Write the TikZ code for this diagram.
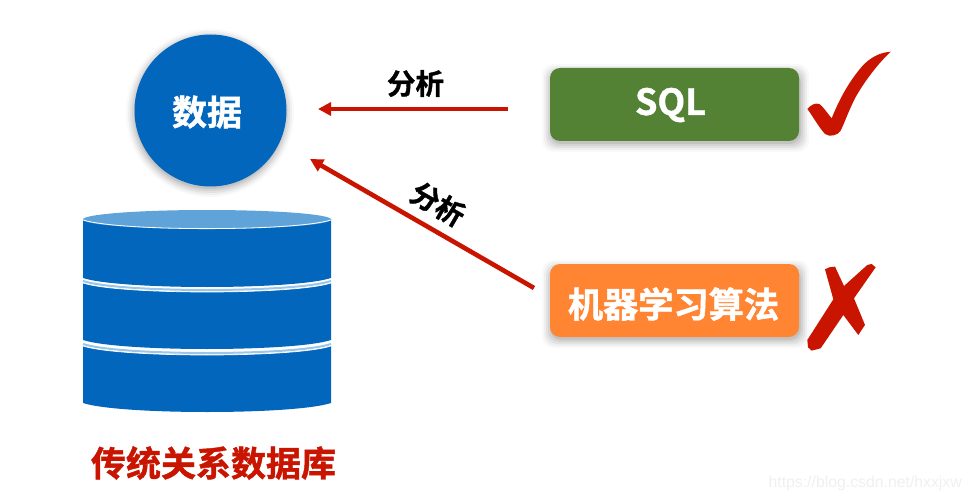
\documentclass[tikz,border=0pt]{standalone}
\usepackage{fontspec}
\usetikzlibrary{arrows.meta}
\newfontfamily\cjkb{Noto Sans CJK SC}[BoldFont=* Bold,BoldFeatures={FakeBold=1.2}]
\definecolor{dbblue}{HTML}{0266BD}
\definecolor{dbtop}{HTML}{5FA3D9}
\definecolor{dbline}{HTML}{9CC6E8}
\definecolor{mygreen}{HTML}{548235}
\definecolor{myorange}{HTML}{FF8533}
\definecolor{myred}{HTML}{C91400}
\definecolor{wm}{HTML}{F0F0F0}
\tikzset{
  x=1pt,y=-1pt,
  flow/.style={line width=4.6pt,draw=myred,-{Triangle[length=13pt,width=13pt]}},
  labeltext/.style={font=\cjkb\bfseries\fontsize{28.5}{28.5}\selectfont,text=black,inner sep=0pt},
  boxtext/.style={font=\cjkb\bfseries\fontsize{35}{35}\selectfont,text=white,inner sep=0pt},
  box/.style={rounded corners=10pt,minimum width=249pt,minimum height=73pt,inner sep=0pt,anchor=center},
  seg/.style={fill=dbblue,draw=none},
}
\begin{document}
\begin{tikzpicture}
\useasboundingbox (0,0) rectangle (972,500);
\fill[white] (0,0) rectangle (972,500);
% soft shadows
\foreach \o/\g in {9/0.025,7/0.04,5/0.05,3/0.06,1/0.08}{
  \fill[black,opacity=\g] (210,113) circle[radius=75+\o];
  \fill[black,opacity=\g,rounded corners=11pt] (551-\o,73-\o) rectangle (800+\o,143+\o);
  \fill[black,opacity=\g,rounded corners=11pt] (551-\o,269-\o) rectangle (800+\o,339+\o);
}
% cylinder
\fill[seg] (83,346) .. controls (120,358) and (294,358) .. (331,346) -- (331,403) .. controls (294,415) and (120,415) .. (83,403) -- cycle;
\fill[seg] (83,283) .. controls (120,295) and (294,295) .. (331,283) -- (331,340) .. controls (294,352) and (120,352) .. (83,340) -- cycle;
\fill[seg] (83,219) -- (331,219) -- (331,278) .. controls (294,290) and (120,290) .. (83,278) -- cycle;
\fill[dbtop,draw=none] (207,219.5) ellipse[x radius=124,y radius=9.5];
\draw[white,line width=0.8pt] (83,220) .. controls (120,231.5) and (294,231.5) .. (331,220);
\draw[dbline,line width=2pt] (83,281) .. controls (120,293) and (294,293) .. (331,281);
\draw[white,line width=0.7pt] (83,279) .. controls (120,291) and (294,291) .. (331,279);
\draw[white,line width=0.7pt] (83,283) .. controls (120,295) and (294,295) .. (331,283);
\draw[dbline,line width=2pt] (83,344) .. controls (120,356) and (294,356) .. (331,344);
\draw[white,line width=0.7pt] (83,342) .. controls (120,354) and (294,354) .. (331,342);
\draw[white,line width=0.7pt] (83,346) .. controls (120,358) and (294,358) .. (331,346);
% main nodes
\node[circle,fill=dbblue,minimum size=152pt,inner sep=0pt] (data) at (210.5,110.5) {};
\node[boxtext] (datat) at (207,112) {数据};
\node[box,fill=mygreen] (sql) at (674.5,104.5) {};
\node[boxtext] (sqlt) at (670.5,105) {\fontsize{36}{36}\selectfont SQL};
\node[box,fill=myorange] (ml) at (674.5,300.5) {};
\node[boxtext] (mlt) at (673.5,304) {\fontsize{35.2}{35.2}\selectfont 机器学习算法};
\node[font=\cjkb\bfseries\fontsize{35}{35}\selectfont,text=myred,inner sep=0pt] (title) at (213.5,463) {传统关系数据库};
% connectors
\coordinate (a1s) at (508,109);
\coordinate (a1e) at (318,109);
\coordinate (a2s) at (534,288);
\coordinate (a2e) at (310,159);
\draw[flow] (a1s) -- (a1e);
\draw[flow] (a2s) -- (a2e);
\node[labeltext] (l1) at (415.5,83.5) {分析};
\node[labeltext,rotate=-30] (l2) at (438,204) {分析};
% check mark
\begin{scope}[shift={(780,40)},x=0.3333pt,y=-0.3333pt]
\fill[myred,line join=round] (82,207) .. controls (92,195) and (105,188) .. (118,192)
  .. controls (130,200) and (142,220) .. (155,235)
  .. controls (175,185) and (205,125) .. (250,75)
  .. controls (275,50) and (300,38) .. (332,35)
  .. controls (300,65) and (255,120) .. (225,175)
  .. controls (205,215) and (195,245) .. (182,272)
  .. controls (172,287) and (150,292) .. (135,282)
  .. controls (115,260) and (98,228) .. (82,207) -- cycle;
% cross mark
\fill[myred] (135,688) -- (148,682) -- (165,680) -- (192,738) -- (262,675) -- (275,672) -- (287,682)
  -- (222,775) -- (255,855) -- (245,870) -- (235,885) -- (190,825) -- (122,925) -- (95,932) -- (84,922) -- (82,900)
  -- (160,778) -- cycle;
\end{scope}
% watermark
\node[font=\fontspec{Liberation Sans}\fontsize{15.8}{15.8}\selectfont,text=wm,inner sep=0pt,anchor=east] (wmk) at (962,483) {https://blog.csdn.net/hxxjxw};
\end{tikzpicture}
\end{document}
